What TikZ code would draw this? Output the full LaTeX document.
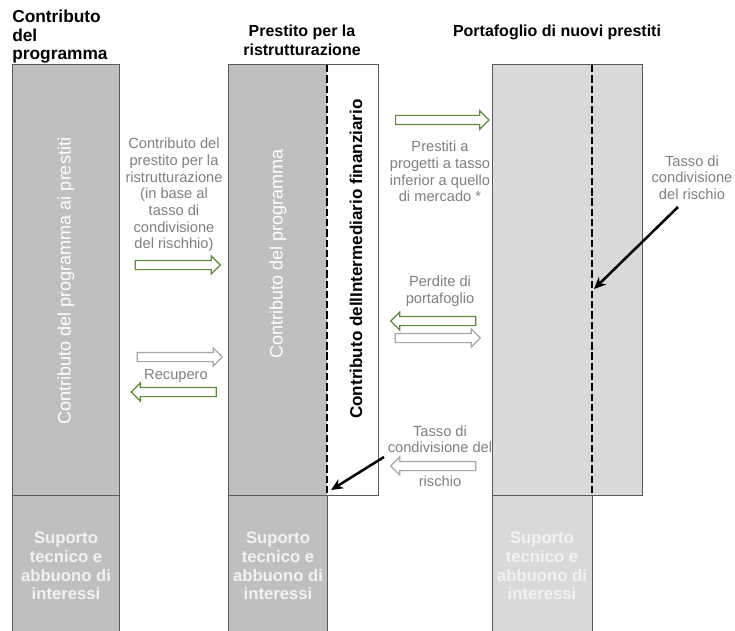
\documentclass[tikz,border=0pt]{standalone}
\usepackage{fontspec}
\setmainfont{Liberation Sans}
\usetikzlibrary{shapes.arrows,arrows.meta}
\definecolor{boxgray}{HTML}{BFBFBF}
\definecolor{lightbox}{HTML}{D9D9D9}
\definecolor{edgecol}{HTML}{595959}
\definecolor{arrgreen}{HTML}{5B8C3A}
\definecolor{arrgray}{HTML}{A6A6A6}
\definecolor{lblcol}{HTML}{808080}
\definecolor{pale}{HTML}{F2F2F2}
\begin{document}
\begin{tikzpicture}[x=0.75pt,y=-0.75pt,
  panel/.style={draw=edgecol,line width=0.75pt},
  sideedge/.style={draw=edgecol,line width=0.75pt},
  dashline/.style={black,line width=1.9pt,dash pattern=on 5.5pt off 2.2pt},
  header/.style={font=\fontsize{12}{13.8}\selectfont\bfseries,inner sep=0pt},
  lbl/.style={text=lblcol,font=\fontsize{11}{12.5}\selectfont,align=center,inner sep=0pt},
  vtext/.style={rotate=90,inner sep=0pt},
  bottomtext/.style={text=pale,font=\fontsize{12.5}{14}\selectfont\bfseries,align=center,inner sep=0pt},
  blockarrow/.style={single arrow,draw=#1,fill=white,line width=0.9pt,inner xsep=0pt,inner ysep=3pt,
     single arrow head extend=3.4pt,minimum width=0pt},
  pointer/.style={black,line width=1.9pt,-{Stealth[length=9pt,width=8pt]}}
]
\useasboundingbox (0,0) rectangle (735,631);
\fill[white] (0,0) rectangle (735,631);

% column 1
\fill[boxgray] (12,65) rectangle (119,495);
\draw[panel] (12,65) rectangle (119,495);
\fill[boxgray] (12,495) rectangle (119,631);
\draw[sideedge] (12,631) -- (12,495) -- (119,495) -- (119,631);

% column 2
\fill[boxgray] (228,65) rectangle (327,495);
\fill[white] (327,65) rectangle (378,495);
\draw[panel] (228,65) rectangle (378,495);
\fill[boxgray] (228,495) rectangle (327,631);
\draw[sideedge] (228,631) -- (228,495) -- (327,495) -- (327,631);
\draw[dashline] (327,65) -- (327,495);

% column 3
\fill[lightbox] (492,65) rectangle (642,495);
\draw[panel] (492,65) rectangle (642,495);
\fill[lightbox] (492,495) rectangle (592,631);
\draw[sideedge] (492,631) -- (492,495) -- (592,495) -- (592,631);
\draw[dashline] (592,65) -- (592,495);

% headers
\node[header,font=\fontsize{13}{13.9}\selectfont\bfseries,anchor=north west,align=left] (h1) at (12,10) {Contributo\\del\\programma};
\node[header,anchor=north,align=center] (h2) at (302,25) {Prestito per la\\ristrutturazione};
\node[header,anchor=north] (h3) at (557,24.5) {Portafoglio di nuovi prestiti};

% vertical texts
\node[vtext,text=white,font=\fontsize{13.5}{16}\selectfont] (v1) at (66,281) {Contributo del programma ai prestiti};
\node[vtext,text=white,font=\fontsize{13.5}{16}\selectfont] (v2) at (278,254) {Contributo del programma};
\node[vtext,text=black,font=\fontsize{12.8}{15}\selectfont\bfseries] (v3) at (356,259) {Contributo dellIntermediario finanziario};

% bottom texts
\node[bottomtext] (b1) at (66,566) {Suporto\\tecnico e\\abbuono di\\interessi};
\node[bottomtext] (b2) at (278,566) {Suporto\\tecnico e\\abbuono di\\interessi};
\node[bottomtext] (b3) at (542,566) {Suporto\\tecnico e\\abbuono di\\interessi};

% labels
\node[lbl] (l1) at (174,195) {Contributo del\\prestito per la\\ristrutturazione\\(in base al\\tasso di\\condivisione\\del rischhio)};
\node[lbl] (l2) at (440,171.5) {Prestiti a\\progetti a tasso\\inferior a quello\\di mercado *};
\node[lbl] (l3) at (440,291.5) {Perdite di\\portafoglio};
\node[lbl] (l4) at (176,376) {Recupero};
\node[lbl] (l5) at (440,456) {Tasso di\\condivisione del\\\mbox{}\\rischio};
\node[lbl] (l6) at (692,177.5) {Tasso di\\condivisione\\del rischio};

% block arrows
\node[blockarrow=arrgreen,minimum height=63.75pt] (a1) at (175.5,265) {};
\node[blockarrow=arrgray,minimum height=63.75pt] (a2) at (177.5,357) {};
\node[blockarrow=arrgreen,minimum height=63.75pt,shape border rotate=180] (a3) at (176,392) {};
\node[blockarrow=arrgreen,minimum height=70pt] (a4) at (440,120) {};
\node[blockarrow=arrgreen,minimum height=63.75pt,shape border rotate=180] (a5) at (435.5,321) {};
\node[blockarrow=arrgray,minimum height=63.75pt] (a6) at (435.5,338) {};
\node[blockarrow=arrgray,minimum height=63.75pt,shape border rotate=180] (a7) at (435.5,466) {};

% pointers
\coordinate (p1s) at (384,457);
\coordinate (p1e) at (331,490);
\coordinate (p2s) at (678,207);
\coordinate (p2e) at (594,289);
\draw[pointer] (p1s) -- (p1e);
\draw[pointer] (p2s) -- (p2e);
\end{tikzpicture}
\end{document}
